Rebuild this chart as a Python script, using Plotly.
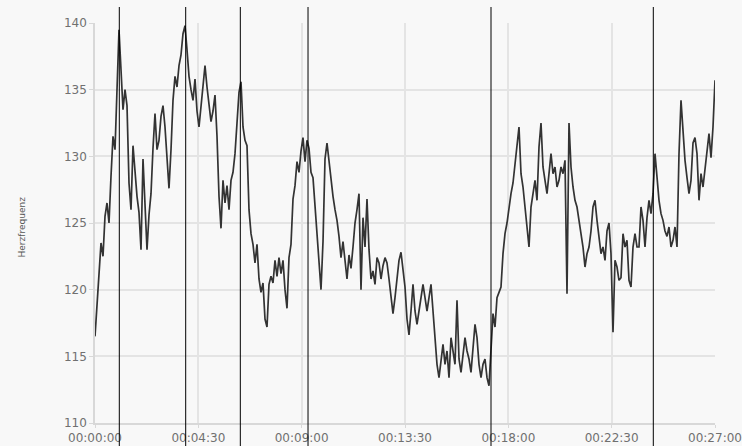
import numpy as np
import plotly.graph_objects as go

# Heart rate (bpm) at ~5.2 s steps from 00:00:00 to 00:27:00
hr = [
    116.5, 119, 121.5, 123.5, 122.5, 125.5, 126.5, 125, 128.5, 131.5,
    130.5, 135, 139.5, 136.5, 133.5, 135, 133.8, 128, 126, 130.8,
    128.6, 127, 125.8, 123, 129.8, 126.5, 123, 125.6, 127.2, 130.6,
    133.2, 130.5, 131.2, 133, 133.8, 132.2, 129.8, 127.6, 130.5, 134.2,
    136, 135.2, 136.8, 137.6, 139.2, 139.8, 138, 136, 135, 134.2,
    135.8, 133.4, 132.2, 133.8, 135.4, 136.8, 135.2, 133.8, 132.6, 133.4,
    134.6, 131.5, 127, 124.6, 128.2, 126.5, 127.8, 126, 128.2, 128.8,
    130.2, 132.5, 134.8, 135.6, 132.2, 131.2, 130.8, 126, 124.2, 123.4,
    122, 123.4, 120.8, 119.8, 120.5, 117.8, 117.2, 120.4, 121, 120.5,
    122.2, 121, 122.4, 121.2, 122.2, 120, 118.6, 122.4, 123.4, 126.8,
    127.8, 129.6, 128.8, 130.4, 131.4, 129.6, 131.2, 130.6, 128.8, 128.4,
    126.4, 124.6, 122, 120, 123.6, 129.8, 131, 129.6, 128.6, 127,
    126, 125.2, 124, 122.4, 123.6, 122.4, 120.8, 122.6, 121.6, 123.2,
    125, 126, 127.2, 120, 125.4, 123.2, 126.8, 123, 120.8, 121.4,
    120.4, 122.4, 122, 120.8, 121.8, 122.4, 122, 120.8, 119.4, 118.2,
    119.4, 120.6, 122.2, 122.8, 121.4, 120.2, 117.8, 116.6, 118.4, 120.4,
    118.4, 117.4, 118.4, 119.4, 120.4, 119.4, 118.4, 119.4, 120.4, 118.4,
    116.6, 114.4, 113.4, 114.9, 115.9, 114.4, 115.4, 113.4, 116.4, 115.4,
    114.4, 119.2, 114.8, 113.8, 115.4, 116.4, 115.4, 114.8, 113.8, 115.4,
    117.4, 116.4, 114.4, 113.4, 114.4, 114.8, 113.4, 112.8, 115.6, 118.2,
    117.2, 119.4, 119.8, 120.2, 122.7, 124.2, 125, 126.2, 127.2, 128,
    129.2, 130.8, 132.2, 128.7, 127.7, 126.2, 124.4, 123.2, 126.2, 127.4,
    128.2, 126.7, 130.7, 132.5, 129.2, 128.2, 127.2, 128.7, 130.2, 128.7,
    129.2, 127.7, 128.2, 129.2, 128.7, 129.7, 119.7, 132.5, 129.2, 127.7,
    126.7, 126.2, 125.2, 124, 123.2, 121.7, 122.7, 123.2, 124.4, 126.2,
    126.7, 125.2, 123.7, 122.7, 123.2, 122.2, 124.4, 125, 122.7, 116.8,
    122.2, 121.7, 120.7, 120.9, 124.2, 123.2, 123.7, 120.7, 120.2, 123.2,
    124.2, 123.2, 123.2, 126.2, 125.2, 123.2, 125.4, 126.7, 125.7, 127.2,
    130.2, 128.2, 126.7, 125.7, 125.2, 124.4, 124, 124.7, 123.2, 123.7,
    124.7, 123.2, 130.2, 134.2, 131.7, 129.7, 128.4, 127.2, 128.2, 131,
    131.4, 130.2, 126.7, 128.7, 127.7, 129.2, 130.2, 131.7, 129.9, 132.2,
    135.7,
]
duration_s = 1620
t = np.linspace(0, duration_s, len(hr))

tick_seconds = [0, 270, 540, 810, 1080, 1350, 1620]
tick_labels = ["00:00:00", "00:04:30", "00:09:00", "00:13:30", "00:18:00", "00:22:30", "00:27:00"]

# event markers (seconds)
events = [63.5, 237, 379.7, 556.6, 1034.7, 1458.8]

fig = go.Figure()
fig.add_trace(go.Scatter(x=t, y=hr, mode="lines",
                         line=dict(color="#333333", width=1.7),
                         hoverinfo="skip", showlegend=False))

for ev in events:
    fig.add_shape(type="line", xref="x", yref="paper", x0=ev, x1=ev,
                  y0=-0.1, y1=1.04, line=dict(color="black", width=1))

fig.add_annotation(text="Herzfrequenz", xref="paper", yref="paper",
                   x=-0.117, y=0.49, xanchor="center", yanchor="middle",
                   textangle=-90, showarrow=False,
                   font=dict(size=9, color="#555"))

fig.update_layout(
    width=742, height=446,
    margin=dict(l=95, r=27, t=23, b=23, autoexpand=False),
    paper_bgcolor="#f8f8f8", plot_bgcolor="#f8f8f8",
    font=dict(family="DejaVu Sans", size=12, color="#707070"),
    showlegend=False,
)
fig.update_xaxes(range=[0, duration_s], tickvals=tick_seconds, ticktext=tick_labels,
                 showgrid=True, gridcolor="#e4e4e4", gridwidth=1.5,
                 showline=True, linecolor="#d8d8d8", linewidth=1.5,
                 ticks="outside", ticklen=3, tickcolor="#d8d8d8", zeroline=False,
                 automargin=False)
fig.update_yaxes(range=[110, 140], dtick=5,
                 showgrid=True, gridcolor="#e4e4e4", gridwidth=1.5,
                 showline=True, linecolor="#d8d8d8", linewidth=1.5,
                 ticks="outside", ticklen=4, tickcolor="#d8d8d8", zeroline=False,
                 automargin=False)

fig.write_html("out.html", config={"displayModeBar": False},
               post_script="document.body.style.margin='0';document.body.style.overflow='hidden';document.body.style.background='#f8f8f8';")
